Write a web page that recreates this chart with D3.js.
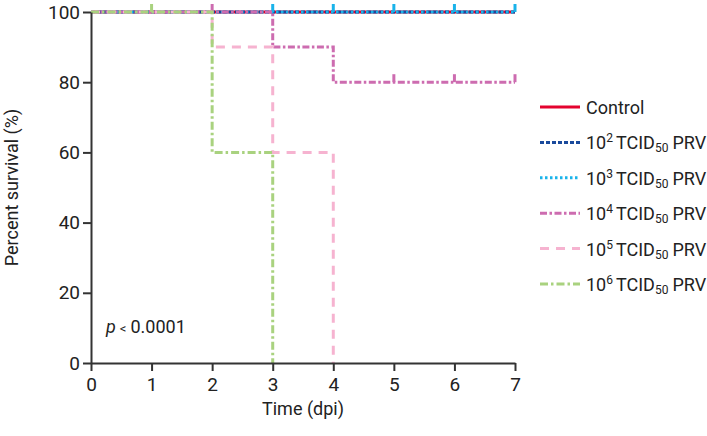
<!DOCTYPE html>
<html>
<head>
<meta charset="utf-8">
<script src="https://cdn.jsdelivr.net/npm/d3@7"></script>
<style>
  body { margin: 0; background: #fff; }
  text { font-family: Roboto, "Liberation Sans", sans-serif; fill: #222; }
  .axis path, .axis line { stroke: #333; stroke-width: 2; }
  .axis text { font-size: 19px; }
</style>
</head>
<body>
<div id="chart"></div>
<script>
// tick values
var xTicks = [0, 1, 2, 3, 4, 5, 6, 7];
var yTicks = [0, 20, 40, 60, 80, 100];

// series: legend labels (exponent of the dose), step points [day, percent] and censor marks
var seriesNames = ['Control', '2', '3', '4', '5', '6'];
var controlSteps = [[0, 100], [7, 100]];
var dose2Steps = [[0, 100], [7, 100]];
var dose3Steps = [[0, 100], [7, 100]];
var dose4Steps = [[0, 100], [3, 90], [4, 80], [7, 80]];
var dose5Steps = [[0, 100], [2, 90], [3, 60], [4, 0]];
var dose6Steps = [[0, 100], [2, 60], [3, 0]];
var controlCensor = [];
var dose2Censor = [];
var dose3Censor = [[3, 100], [4, 100], [5, 100], [6, 100], [7, 100]];
var dose4Censor = [[2, 100], [5, 80], [6, 80], [7, 80]];
var dose5Censor = [];
var dose6Censor = [[1, 100]];

var colors = ['#e4032e', '#1a4a9c', '#19b3ea', '#cd6cb0', '#f6b3d0', '#a9d27f'];
var dashes = ['none', '4,2', '2.5,2.5', '7,2.5,2.5,2.5', '9,7', '8,3,2.5,3'];
var allSteps = [controlSteps, dose2Steps, dose3Steps, dose4Steps, dose5Steps, dose6Steps];
var allCensor = [controlCensor, dose2Censor, dose3Censor, dose4Censor, dose5Censor, dose6Censor];

var margin = { top: 12, right: 192, bottom: 73, left: 91 };
var W = 707, H = 436;
var width = W - margin.left - margin.right;
var height = H - margin.top - margin.bottom;

var x = d3.scaleLinear().domain([0, 7]).range([0, width]);
var y = d3.scaleLinear().domain([0, 100]).range([height, 0]);

var svg = d3.select('#chart').append('svg')
  .attr('width', W)
  .attr('height', H);

var g = svg.append('g')
  .attr('transform', 'translate(' + margin.left + ',' + margin.top + ')');

var line = d3.line()
  .curve(d3.curveStepAfter)
  .x(function (d) { return x(d[0]); })
  .y(function (d) { return y(d[1]); });

// curves
allSteps.forEach(function (steps, i) {
  g.append('path')
    .datum(steps)
    .attr('fill', 'none')
    .attr('stroke', colors[i])
    .attr('stroke-width', 3)
    .attr('stroke-dasharray', dashes[i])
    .attr('d', line);

  g.selectAll('.censor' + i)
    .data(allCensor[i])
    .enter().append('line')
    .attr('stroke', colors[i])
    .attr('stroke-width', 3)
    .attr('x1', function (d) { return x(d[0]); })
    .attr('x2', function (d) { return x(d[0]); })
    .attr('y1', function (d) { return y(d[1]); })
    .attr('y2', function (d) { return y(d[1]) - 8; });
});

// axes
g.append('g')
  .attr('class', 'axis')
  .attr('transform', 'translate(0,' + height + ')')
  .call(d3.axisBottom(x).tickValues(xTicks).tickFormat(d3.format('d'))
    .tickSize(8).tickSizeOuter(0).tickPadding(7));

g.append('g')
  .attr('class', 'axis')
  .call(d3.axisLeft(y).tickValues(yTicks).tickFormat(d3.format('d'))
    .tickSize(8).tickSizeOuter(0).tickPadding(3));

g.selectAll('.axis text').attr('fill', '#222');

// axis titles
svg.append('text')
  .attr('x', margin.left + width / 2)
  .attr('y', 415)
  .attr('text-anchor', 'middle')
  .style('font-size', '18px')
  .text('Time (dpi)');

svg.append('text')
  .attr('transform', 'translate(18,' + (margin.top + height / 2) + ') rotate(-90)')
  .attr('text-anchor', 'middle')
  .style('font-size', '18px')
  .text('Percent survival (%)');

// p value
var pText = svg.append('text')
  .attr('x', 106)
  .attr('y', 333)
  .style('font-size', '18px');
pText.append('tspan').style('font-style', 'italic').text('p');
pText.append('tspan').style('font-size', '13px').attr('dx', 4).text('<');
pText.append('tspan').attr('dx', 4).text('0.0001');

// legend
var legend = svg.append('g').attr('transform', 'translate(540,107)');
seriesNames.forEach(function (name, i) {
  var row = legend.append('g').attr('transform', 'translate(0,' + (i * 35.4) + ')');
  row.append('line')
    .attr('x1', 0).attr('x2', 40)
    .attr('stroke', colors[i])
    .attr('stroke-width', 3)
    .attr('stroke-dasharray', dashes[i]);
  var t = row.append('text')
    .attr('x', 46)
    .attr('y', 7)
    .style('font-size', '18px');
  if (i === 0) {
    t.text(name);
  } else {
    t.append('tspan').text('10');
    t.append('tspan').attr('dy', -7).style('font-size', '12px').text(name);
    t.append('tspan').attr('dy', 7).attr('dx', 3).text('TCID');
    t.append('tspan').attr('dy', 3).style('font-size', '12px').text('50');
    t.append('tspan').attr('dy', -3).attr('dx', 4).text('PRV');
  }
});
</script>
</body>
</html>
